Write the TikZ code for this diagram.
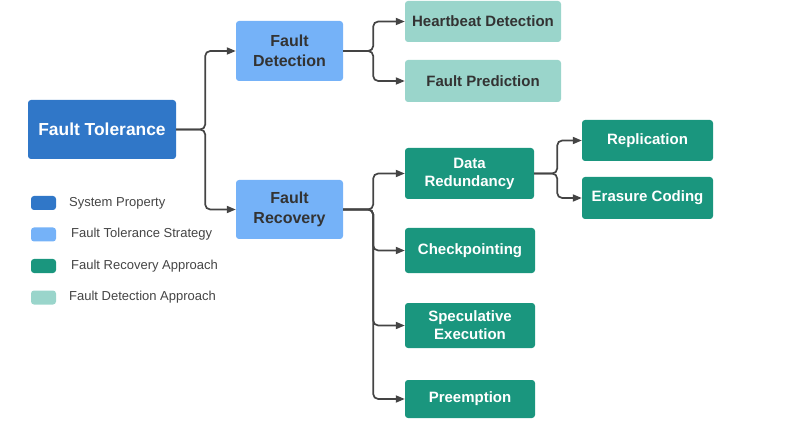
\documentclass[tikz,border=0pt]{standalone}
\usepackage{fontspec}
\setmainfont{Liberation Sans}
\usetikzlibrary{arrows.meta}
\definecolor{sysprop}{HTML}{3077C8}
\definecolor{strat}{HTML}{75B2F8}
\definecolor{recov}{HTML}{1A967E}
\definecolor{detect}{HTML}{9AD5CB}
\definecolor{darktext}{HTML}{333333}
\definecolor{legtext}{HTML}{444444}
\definecolor{linecol}{HTML}{444444}
\begin{document}
\begin{tikzpicture}[x=1pt,y=-1pt,
  box/.style={rounded corners=3pt, inner sep=0pt, align=center,
    font=\bfseries\fontsize{15}{18}\selectfont},
  sysbox/.style={box, fill=sysprop, text=white},
  stratbox/.style={box, fill=strat, text=darktext, minimum width=107pt,
    font=\bfseries\fontsize{16}{20}\selectfont},
  recbox/.style={box, fill=recov, text=white},
  detbox/.style={box, fill=detect, text=darktext, minimum width=156pt, minimum height=41pt},
  swatch/.style={rounded corners=3pt, minimum width=25pt, minimum height=14pt, inner sep=0pt},
  legend/.style={anchor=west, inner sep=0pt, text=legtext, font=\fontsize{13}{15}\selectfont},
  conn/.style={draw=linecol, line width=1.7pt, rounded corners=5pt,
    -{Triangle[length=9pt,width=7pt]}}]
\useasboundingbox (0,0) rectangle (799,427);
% nodes
\node[sysbox, minimum width=148pt, minimum height=59pt,
  font=\bfseries\fontsize{17.4}{20}\selectfont] (ft) at (102,129.5) {Fault Tolerance};
\node[stratbox, minimum height=60pt] (fd) at (289.5,51) {Fault\\Detection};
\node[stratbox, minimum height=59pt] (fr) at (289.5,209.5) {Fault\\Recovery};
\node[detbox] (hb) at (483,21.5) {Heartbeat Detection};
\node[detbox, minimum height=42pt] (fp) at (483,81) {Fault Prediction};
\node[recbox, minimum width=129pt, minimum height=51pt] (dr) at (469.5,173.5) {Data\\Redundancy};
\node[recbox, minimum width=131pt, minimum height=41pt] (rep) at (647.5,140.5) {Replication};
\node[recbox, minimum width=131pt, minimum height=42pt] (ec) at (647.5,198) {Erasure Coding};
\node[recbox, minimum width=130pt, minimum height=45pt] (cp) at (470,250.5) {Checkpointing};
\node[recbox, minimum width=130pt, minimum height=45pt] (se) at (470,325.5) {Speculative\\Execution};
\node[recbox, minimum width=130pt, minimum height=38pt] (pe) at (470,399) {Preemption};
% connectors
\draw[conn] (ft.east) -- ++(29,0) |- (fd.west);
\draw[conn] (ft.east) -- ++(29,0) |- (fr.west);
\draw[conn] (fd.east) -- ++(30,0) |- (hb.west);
\draw[conn] (fd.east) -- ++(30,0) |- (fp.west);
\draw[conn] (fr.east) -- ++(30,0) |- (dr.west);
\draw[conn] (fr.east) -- ++(30,0) |- (cp.west);
\draw[conn] (fr.east) -- ++(30,0) |- (se.west);
\draw[conn] (fr.east) -- ++(30,0) |- (pe.west);
\draw[conn] (dr.east) -- ++(23,0) |- (rep.west);
\draw[conn] (dr.east) -- ++(23,0) |- (ec.west);
% legend
\node[swatch, fill=sysprop] (s1) at (43.5,203) {};
\node[legend] (t1) at (69,203) {System Property};
\node[swatch, fill=strat] (s2) at (43.5,234.5) {};
\node[legend] (t2) at (71,234.5) {Fault Tolerance Strategy};
\node[swatch, fill=recov] (s3) at (43.5,266) {};
\node[legend] (t3) at (71,266) {Fault Recovery Approach};
\node[swatch, fill=detect] (s4) at (43.5,297.5) {};
\node[legend] (t4) at (69,297.5) {Fault Detection Approach};
\end{tikzpicture}
\end{document}
